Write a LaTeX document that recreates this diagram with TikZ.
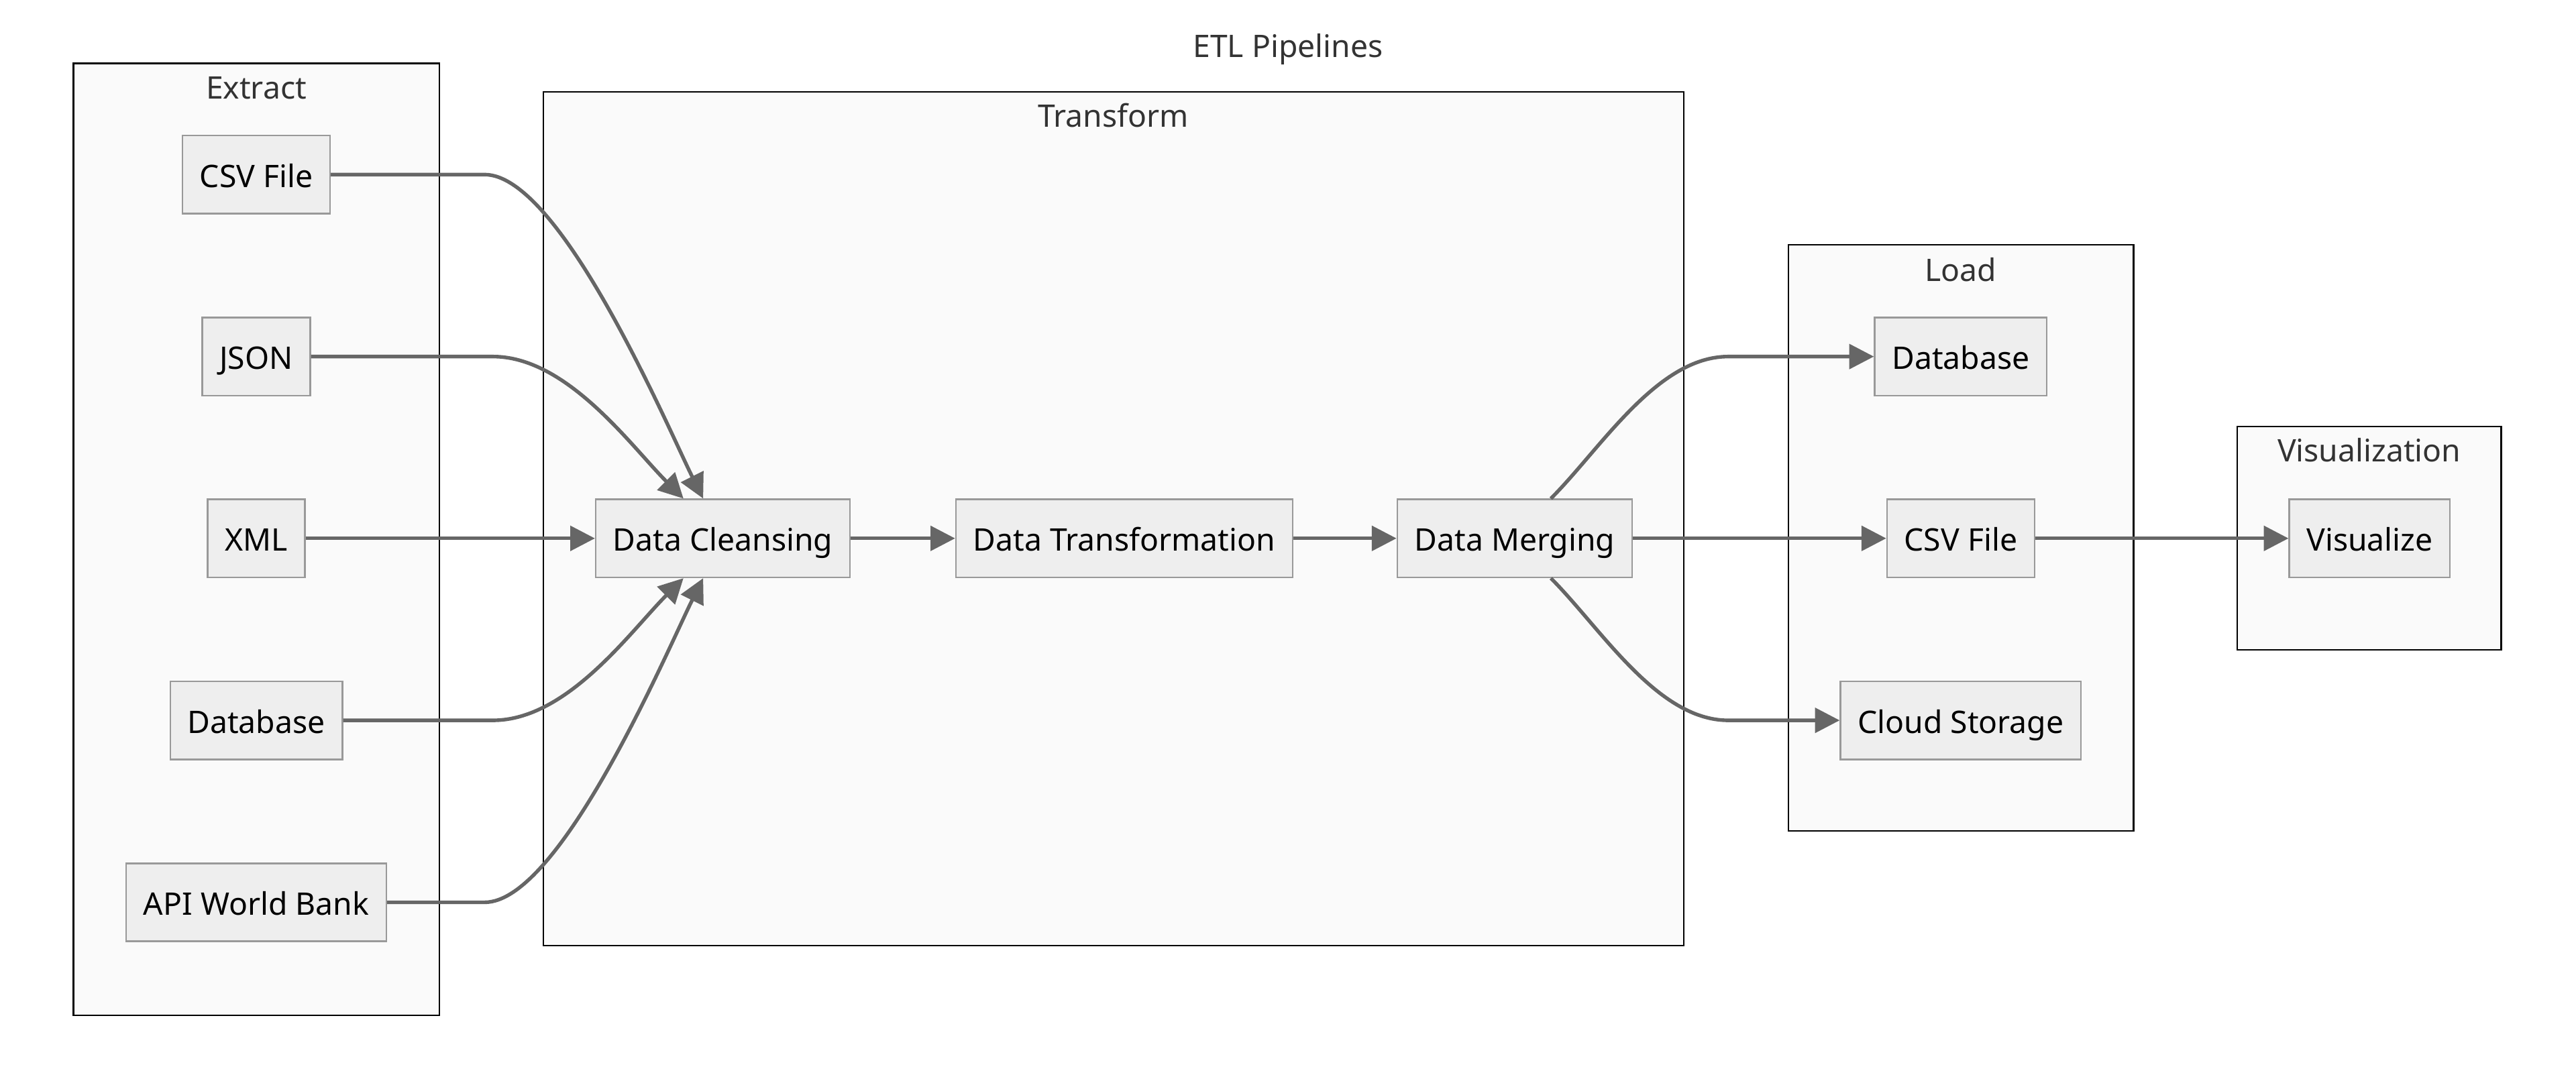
\documentclass[tikz,border=0pt]{standalone}
\usepackage{fontspec}
\setmainfont{Noto Sans}
\usetikzlibrary{arrows.meta}
\definecolor{edgegray}{HTML}{666666}
\definecolor{nodefill}{HTML}{EEEEEE}
\definecolor{nodeline}{HTML}{999999}
\definecolor{groupfill}{HTML}{FAFAFA}
\definecolor{labelgray}{HTML}{333333}

\begin{document}
\begin{tikzpicture}[x=1pt, y=1pt,
    box/.style={draw=nodeline, fill=nodefill, line width=1pt, minimum height=47.5pt, inner xsep=10.5pt, text height=17pt, text depth=1.4pt, font=\fontsize{18.9}{22}\selectfont},
    group/.style={draw=black, fill=groupfill, line width=1pt},
    grouplabel/.style={anchor=base, text=labelgray, inner sep=0pt, font=\fontsize{18.9}{22}\selectfont},
    flow/.style={-{Triangle[length=15pt, width=15pt]}, draw=edgegray, line width=2.2pt}]
    \fill [white] (0,0) rectangle (1568,651.7);
    \useasboundingbox (0,0) rectangle (1568,651.7);
    \node (title) at (784,616.6) [grouplabel] {ETL Pipelines};

    % groups
    \draw [group] (44.8,33.5) rectangle (267.4,613.2);
    \node (extract) at (156,591.4) [grouplabel] {Extract};
    \draw [group] (330.7,75.9) rectangle (1025,595.8);
    \node (transform) at (677.6,574.4) [grouplabel] {Transform};
    \draw [group] (1088.7,145.7) rectangle (1298.7,502.7);
    \node (load) at (1193.5,480.4) [grouplabel] {Load};
    \draw [group] (1361.7,256) rectangle (1522.5,392);
    \node (visgroup) at (1442.1,370.4) [grouplabel] {Visualization};

    % extract
    \node (ecsv) at (156,545.4) [box] {CSV File};
    \node (ejson) at (156,434.6) [box] {JSON};
    \node (exml) at (156,323.9) [box] {XML};
    \node (edb) at (156,213.1) [box] {Database};
    \node (eapi) at (156,102.3) [box] {API World Bank};

    % transform
    \node (cln) at (440,323.9) [box] {Data Cleansing};
    \node (trf) at (684.3,323.9) [box] {Data Transformation};
    \node (mrg) at (922,323.9) [box] {Data Merging};

    % load
    \node (ldb) at (1193.5,434.6) [box] {Database};
    \node (lcsv) at (1193.5,323.9) [box] {CSV File};
    \node (lcld) at (1193.5,213.1) [box] {Cloud Storage};

    % visualization
    \node (vis) at (1442.4,323.9) [box] {Visualize};

    % connectors
    \draw [flow] (ecsv.east) -- (295,545.4) to[out=0, in=116.6, looseness=0.5] ([xshift=-12pt]cln.north);
    \draw [flow] (ejson.east) -- (300,434.6) to[out=0, in=135, looseness=0.8] ([xshift=-24pt]cln.north);
    \draw [flow] (exml.east) -- (cln.west);
    \draw [flow] (edb.east) -- (300,213.1) to[out=0, in=225, looseness=0.8] ([xshift=-24pt]cln.south);
    \draw [flow] (eapi.east) -- (295,102.3) to[out=0, in=243.4, looseness=0.5] ([xshift=-12pt]cln.south);
    \draw [flow] (cln.east) -- (trf.west);
    \draw [flow] (trf.east) -- (mrg.west);
    \draw [flow] ([xshift=22pt]mrg.north) to[out=45, in=180, looseness=0.8] (1052,434.6) -- (ldb.west);
    \draw [flow] (mrg.east) -- (lcsv.west);
    \draw [flow] ([xshift=22pt]mrg.south) to[out=-45, in=180, looseness=0.8] (1052,213.1) -- (lcld.west);
    \draw [flow] (lcsv.east) -- (vis.west);
\end{tikzpicture}
\end{document}
